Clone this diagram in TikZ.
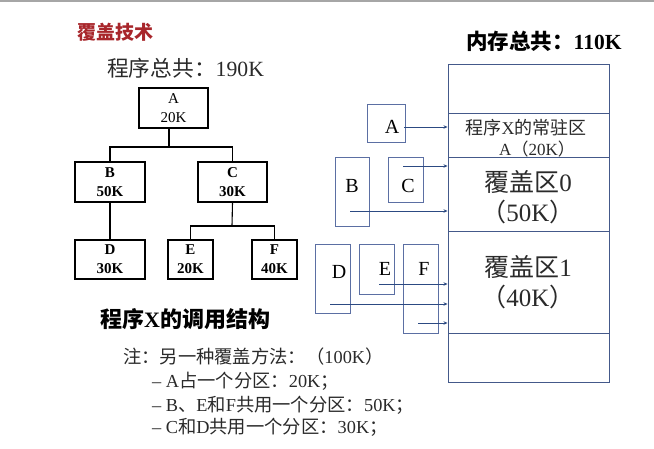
\documentclass[tikz,border=0pt]{standalone}
\usepackage{fontspec}
\setmainfont{Liberation Serif}
\newfontfamily\cjk{Noto Sans CJK SC}
\usetikzlibrary{arrows.meta}
\definecolor{titlered}{HTML}{A8262B}
\definecolor{memblue}{HTML}{44598A}
\definecolor{boxblue}{HTML}{5B6FA3}
\definecolor{arrblue}{HTML}{2C4A82}
\definecolor{txt}{HTML}{2A2A2A}
\newcommand{\fsz}[1]{\fontsize{#1}{#1}\selectfont}
\begin{document}
\begin{tikzpicture}[x=1pt,y=-1pt,
  tbox/.style={draw=black, line width=1.1pt, inner sep=0pt, align=center, font=\fontsize{15}{19}\selectfont\bfseries},
  tline/.style={draw=black, line width=1.1pt},
  mem/.style={draw=memblue, line width=0.9pt, minimum width=161pt, inner sep=0pt},
  sbox/.style={draw=boxblue, line width=0.8pt, inner sep=0pt},
  slab/.style={font=\fsz{20}, text=black, inner sep=0pt},
  arr/.style={draw=arrblue, line width=0.8pt, -{Stealth[length=4pt,width=3.5pt]}},
  txtnode/.style={text=txt, inner sep=0pt, anchor=west}]
\useasboundingbox (0,0) rectangle (654,448);
\fill[white] (0,0) rectangle (654,448);
\fill[gray!70] (0,0) rectangle (654,1.5);

% titles
\node[txtnode, text=titlered, font=\fsz{19}\bfseries] (title) at (77,32) {\cjk 覆盖技术};
\node[txtnode, font=\fsz{21.7}] (total) at (107,68) {{\cjk 程序总共：}190K};

% tree
\node[tbox, font=\fontsize{15}{19}\selectfont, minimum width=69pt, minimum height=40pt] (A) at (173.5,108) {A\\20K};
\node[tbox, minimum width=70pt, minimum height=40pt] (B) at (110,182) {B\\50K};
\node[tbox, minimum width=69pt, minimum height=40pt] (C) at (232.5,182) {C\\30K};
\node[tbox, minimum width=70pt, minimum height=39pt] (D) at (110,259.5) {D\\30K};
\node[tbox, minimum width=45pt, minimum height=39pt] (E) at (190.5,259.5) {E\\20K};
\node[tbox, minimum width=45pt, minimum height=39pt] (F) at (274.5,259.5) {F\\40K};
\coordinate (j1) at (169,147);
\coordinate (j2) at (232,226);
\draw[tline] (j1 |- A.south) -- (j1);
\draw[tline] (B.north) |- (j1) -| (C.north);
\draw[tline] (B.south) -- (D.north);
\draw[tline] (C.south) -- (j2);
\draw[tline] (E.north) |- (j2) -| (F.north);

\node[txtnode, text=black, font=\fsz{22}\bfseries] (struct) at (100,319) {{\cjk 程序}X{\cjk 的调用结构}};

\node[txtnode, font=\fsz{18.3}] (note) at (123,357) {{\cjk 注：另一种覆盖方法：（}100K{\cjk ）}};
\node[txtnode, font=\fsz{18.3}] (n1) at (152,381) {– A{\cjk 占一个分区：}20K{\cjk ；}};
\node[txtnode, font=\fsz{18.3}] (n2) at (152,405) {– B{\cjk 、}E{\cjk 和}F{\cjk 共用一个分区：}50K{\cjk ；}};
\node[txtnode, font=\fsz{18.3}] (n3) at (152,427) {– C{\cjk 和}D{\cjk 共用一个分区：}30K{\cjk ；}};

% memory
\node[txtnode, text=black, font=\fsz{21.5}\bfseries] (memtot) at (466,41) {{\cjk 内存总共：}110K};
\node[mem, minimum height=49pt] (m0) at (528.5,88.5) {};
\node[mem, minimum height=44pt] (m1) at (528.5,135) {};
\node[mem, minimum height=74pt] (m2) at (528.5,194) {};
\node[mem, minimum height=102pt] (m3) at (528.5,282) {};
\node[mem, minimum height=49pt] (m4) at (528.5,357.5) {};

\node[text=txt, font=\fsz{18}, inner sep=0pt] (r1) at (526,128) {{\cjk 程序}X{\cjk 的常驻区}};
\node[text=txt, font=\fsz{17}, inner sep=0pt] (r2) at (537,149) {A{\cjk （}20K{\cjk ）}};
\node[text=txt, font=\fsz{25}, inner sep=0pt] (o0) at (528,182) {{\cjk 覆盖区}0};
\node[text=txt, font=\fsz{25}, inner sep=0pt] (o0s) at (528,212) {{\cjk （}50K{\cjk ）}};
\node[text=txt, font=\fsz{25}, inner sep=0pt] (o1) at (528,267) {{\cjk 覆盖区}1};
\node[text=txt, font=\fsz{25}, inner sep=0pt] (o1s) at (528,297) {{\cjk （}40K{\cjk ）}};

% small boxes
\node[sbox, minimum width=38pt, minimum height=38pt] (sA) at (386,123) {};
\node[sbox, minimum width=34pt, minimum height=69pt] (sB) at (352,191.5) {};
\node[sbox, minimum width=35pt, minimum height=45pt] (sC) at (405.5,179.5) {};
\node[sbox, minimum width=35pt, minimum height=69pt] (sD) at (332.5,278.5) {};
\node[sbox, minimum width=35pt, minimum height=50pt] (sE) at (376.5,269) {};
\node[sbox, minimum width=35pt, minimum height=89pt] (sF) at (420.5,288.5) {};
\node[slab] (lA) at (392,127) {A};
\node[slab] (lB) at (352,186) {B};
\node[slab] (lC) at (408,186) {C};
\node[slab] (lD) at (339,272) {D};
\node[slab] (lE) at (385,269) {E};
\node[slab] (lF) at (424,269) {F};

\coordinate (aA) at (404,127);
\coordinate (aC) at (403,166);
\coordinate (aB) at (350,211);
\coordinate (aE) at (379,284);
\coordinate (aD) at (330,304);
\coordinate (aF) at (418,323);
\draw[arr] (aA) -- (aA -| m1.west);
\draw[arr] (aC) -- (aC -| m2.west);
\draw[arr] (aB) -- (aB -| m2.west);
\draw[arr] (aE) -- (aE -| m3.west);
\draw[arr] (aD) -- (aD -| m3.west);
\draw[arr] (aF) -- (aF -| m3.west);
\end{tikzpicture}
\end{document}
